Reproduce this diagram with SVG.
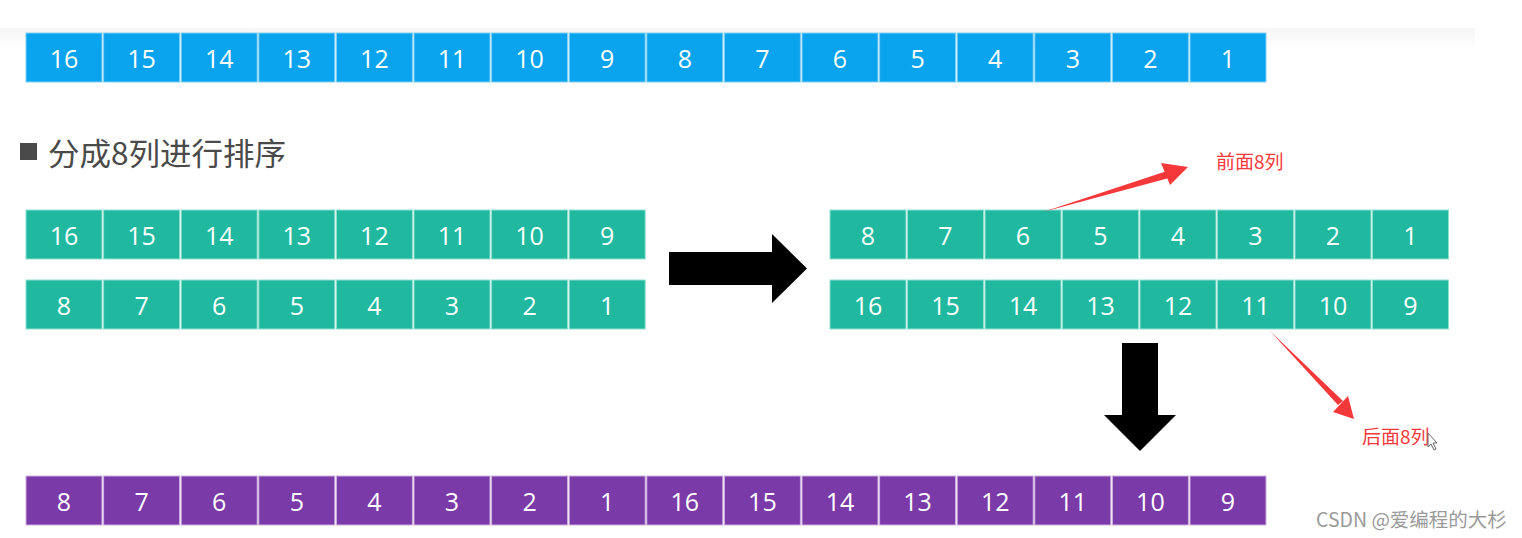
<svg xmlns="http://www.w3.org/2000/svg" width="1522" height="538" viewBox="0 0 1522 538">
<defs>
<style>
.n{font-family:"Open Sans","Noto Sans",sans-serif;font-size:25px;fill:#fff;text-anchor:middle}
.b rect{fill:#0aa3ee;stroke:#7fd0f6;stroke-width:1}
.g rect{fill:#20b9a0;stroke:#8fe0cf;stroke-width:1}
.p rect{fill:#7a3aa8;stroke:#cdb0e0;stroke-width:1}
.red{font-family:"Noto Sans CJK SC","Noto Sans",sans-serif;font-size:19px;fill:#f5393b}
</style>
<linearGradient id="band" x1="0" y1="0" x2="0" y2="1">
<stop offset="0" stop-color="#f5f5f5"/>
<stop offset="1" stop-color="#ffffff"/>
</linearGradient>
</defs>
<rect width="1522" height="538" fill="#fff"/>
<rect x="0" y="28" width="1475" height="22" fill="url(#band)"/>

<g id="top-row" class="b">
<g id="t1" transform="translate(26,33)"><rect width="76" height="49"/><text class="n" x="38" y="35">16</text></g>
<g id="t2" transform="translate(103.6,33)"><rect width="76" height="49"/><text class="n" x="38" y="35">15</text></g>
<g id="t3" transform="translate(181.2,33)"><rect width="76" height="49"/><text class="n" x="38" y="35">14</text></g>
<g id="t4" transform="translate(258.8,33)"><rect width="76" height="49"/><text class="n" x="38" y="35">13</text></g>
<g id="t5" transform="translate(336.4,33)"><rect width="76" height="49"/><text class="n" x="38" y="35">12</text></g>
<g id="t6" transform="translate(414,33)"><rect width="76" height="49"/><text class="n" x="38" y="35">11</text></g>
<g id="t7" transform="translate(491.6,33)"><rect width="76" height="49"/><text class="n" x="38" y="35">10</text></g>
<g id="t8" transform="translate(569.2,33)"><rect width="76" height="49"/><text class="n" x="38" y="35">9</text></g>
<g id="t9" transform="translate(646.8,33)"><rect width="76" height="49"/><text class="n" x="38" y="35">8</text></g>
<g id="t10" transform="translate(724.4,33)"><rect width="76" height="49"/><text class="n" x="38" y="35">7</text></g>
<g id="t11" transform="translate(802,33)"><rect width="76" height="49"/><text class="n" x="38" y="35">6</text></g>
<g id="t12" transform="translate(879.6,33)"><rect width="76" height="49"/><text class="n" x="38" y="35">5</text></g>
<g id="t13" transform="translate(957.2,33)"><rect width="76" height="49"/><text class="n" x="38" y="35">4</text></g>
<g id="t14" transform="translate(1034.8,33)"><rect width="76" height="49"/><text class="n" x="38" y="35">3</text></g>
<g id="t15" transform="translate(1112.4,33)"><rect width="76" height="49"/><text class="n" x="38" y="35">2</text></g>
<g id="t16" transform="translate(1190,33)"><rect width="76" height="49"/><text class="n" x="38" y="35">1</text></g>
</g>

<g id="title">
<rect x="20" y="143" width="17" height="17" fill="#4a4a4a"/>
<text x="48" y="165" font-family="Noto Sans CJK SC,Noto Sans,sans-serif" font-size="31" fill="#4a4a4a" textLength="238" lengthAdjust="spacingAndGlyphs">分成8列进行排序</text>
</g>

<g id="left-row1" class="g">
<g id="l1a" transform="translate(26,210)"><rect width="76" height="49"/><text class="n" x="38" y="35">16</text></g>
<g id="l1b" transform="translate(103.6,210)"><rect width="76" height="49"/><text class="n" x="38" y="35">15</text></g>
<g id="l1c" transform="translate(181.2,210)"><rect width="76" height="49"/><text class="n" x="38" y="35">14</text></g>
<g id="l1d" transform="translate(258.8,210)"><rect width="76" height="49"/><text class="n" x="38" y="35">13</text></g>
<g id="l1e" transform="translate(336.4,210)"><rect width="76" height="49"/><text class="n" x="38" y="35">12</text></g>
<g id="l1f" transform="translate(414,210)"><rect width="76" height="49"/><text class="n" x="38" y="35">11</text></g>
<g id="l1g" transform="translate(491.6,210)"><rect width="76" height="49"/><text class="n" x="38" y="35">10</text></g>
<g id="l1h" transform="translate(569.2,210)"><rect width="76" height="49"/><text class="n" x="38" y="35">9</text></g>
</g>
<g id="left-row2" class="g">
<g id="l2a" transform="translate(26,280)"><rect width="76" height="49"/><text class="n" x="38" y="35">8</text></g>
<g id="l2b" transform="translate(103.6,280)"><rect width="76" height="49"/><text class="n" x="38" y="35">7</text></g>
<g id="l2c" transform="translate(181.2,280)"><rect width="76" height="49"/><text class="n" x="38" y="35">6</text></g>
<g id="l2d" transform="translate(258.8,280)"><rect width="76" height="49"/><text class="n" x="38" y="35">5</text></g>
<g id="l2e" transform="translate(336.4,280)"><rect width="76" height="49"/><text class="n" x="38" y="35">4</text></g>
<g id="l2f" transform="translate(414,280)"><rect width="76" height="49"/><text class="n" x="38" y="35">3</text></g>
<g id="l2g" transform="translate(491.6,280)"><rect width="76" height="49"/><text class="n" x="38" y="35">2</text></g>
<g id="l2h" transform="translate(569.2,280)"><rect width="76" height="49"/><text class="n" x="38" y="35">1</text></g>
</g>

<g id="right-row1" class="g">
<g id="r1a" transform="translate(830,210)"><rect width="76" height="49"/><text class="n" x="38" y="35">8</text></g>
<g id="r1b" transform="translate(907.5,210)"><rect width="76" height="49"/><text class="n" x="38" y="35">7</text></g>
<g id="r1c" transform="translate(985,210)"><rect width="76" height="49"/><text class="n" x="38" y="35">6</text></g>
<g id="r1d" transform="translate(1062.5,210)"><rect width="76" height="49"/><text class="n" x="38" y="35">5</text></g>
<g id="r1e" transform="translate(1140,210)"><rect width="76" height="49"/><text class="n" x="38" y="35">4</text></g>
<g id="r1f" transform="translate(1217.5,210)"><rect width="76" height="49"/><text class="n" x="38" y="35">3</text></g>
<g id="r1g" transform="translate(1295,210)"><rect width="76" height="49"/><text class="n" x="38" y="35">2</text></g>
<g id="r1h" transform="translate(1372.5,210)"><rect width="76" height="49"/><text class="n" x="38" y="35">1</text></g>
</g>
<g id="right-row2" class="g">
<g id="r2a" transform="translate(830,280)"><rect width="76" height="49"/><text class="n" x="38" y="35">16</text></g>
<g id="r2b" transform="translate(907.5,280)"><rect width="76" height="49"/><text class="n" x="38" y="35">15</text></g>
<g id="r2c" transform="translate(985,280)"><rect width="76" height="49"/><text class="n" x="38" y="35">14</text></g>
<g id="r2d" transform="translate(1062.5,280)"><rect width="76" height="49"/><text class="n" x="38" y="35">13</text></g>
<g id="r2e" transform="translate(1140,280)"><rect width="76" height="49"/><text class="n" x="38" y="35">12</text></g>
<g id="r2f" transform="translate(1217.5,280)"><rect width="76" height="49"/><text class="n" x="38" y="35">11</text></g>
<g id="r2g" transform="translate(1295,280)"><rect width="76" height="49"/><text class="n" x="38" y="35">10</text></g>
<g id="r2h" transform="translate(1372.5,280)"><rect width="76" height="49"/><text class="n" x="38" y="35">9</text></g>
</g>

<g id="bottom-row" class="p">
<g id="p1" transform="translate(26,476)"><rect width="76" height="49"/><text class="n" x="38" y="35">8</text></g>
<g id="p2" transform="translate(103.6,476)"><rect width="76" height="49"/><text class="n" x="38" y="35">7</text></g>
<g id="p3" transform="translate(181.2,476)"><rect width="76" height="49"/><text class="n" x="38" y="35">6</text></g>
<g id="p4" transform="translate(258.8,476)"><rect width="76" height="49"/><text class="n" x="38" y="35">5</text></g>
<g id="p5" transform="translate(336.4,476)"><rect width="76" height="49"/><text class="n" x="38" y="35">4</text></g>
<g id="p6" transform="translate(414,476)"><rect width="76" height="49"/><text class="n" x="38" y="35">3</text></g>
<g id="p7" transform="translate(491.6,476)"><rect width="76" height="49"/><text class="n" x="38" y="35">2</text></g>
<g id="p8" transform="translate(569.2,476)"><rect width="76" height="49"/><text class="n" x="38" y="35">1</text></g>
<g id="p9" transform="translate(646.8,476)"><rect width="76" height="49"/><text class="n" x="38" y="35">16</text></g>
<g id="p10" transform="translate(724.4,476)"><rect width="76" height="49"/><text class="n" x="38" y="35">15</text></g>
<g id="p11" transform="translate(802,476)"><rect width="76" height="49"/><text class="n" x="38" y="35">14</text></g>
<g id="p12" transform="translate(879.6,476)"><rect width="76" height="49"/><text class="n" x="38" y="35">13</text></g>
<g id="p13" transform="translate(957.2,476)"><rect width="76" height="49"/><text class="n" x="38" y="35">12</text></g>
<g id="p14" transform="translate(1034.8,476)"><rect width="76" height="49"/><text class="n" x="38" y="35">11</text></g>
<g id="p15" transform="translate(1112.4,476)"><rect width="76" height="49"/><text class="n" x="38" y="35">10</text></g>
<g id="p16" transform="translate(1190,476)"><rect width="76" height="49"/><text class="n" x="38" y="35">9</text></g>
</g>

<g id="connectors">
<polygon points="669,252 772,252 772,234 807,268.5 772,303 772,285 669,285" fill="#000"/>
<polygon points="1122,343 1158,343 1158,415 1176,415 1140,451 1104,415 1122,415" fill="#000"/>
<polygon points="1043,212 1167,171 1169,178" fill="#f5393b"/>
<polygon points="1188,167 1161,163 1170,185" fill="#f5393b"/>
<polygon points="1269,330 1343,401 1338,405" fill="#f5393b"/>
<polygon points="1354,419 1333,412 1348,396" fill="#f5393b"/>
</g>

<g id="labels">
<text class="red" x="1216" y="169">前面8列</text>
<text class="red" x="1362" y="444">后面8列</text>
</g>

<g id="cursor">
<polygon points="1428,433 1428,447 1431,444 1434,450 1436,449 1433,443 1437,443" fill="#fff" stroke="#666" stroke-width="1"/>
</g>

<text id="watermark" x="1316" y="527" font-family="Noto Sans CJK SC,Noto Sans,sans-serif" font-size="19.5" fill="#9a9a9a">CSDN @爱编程的大杉</text>
</svg>
